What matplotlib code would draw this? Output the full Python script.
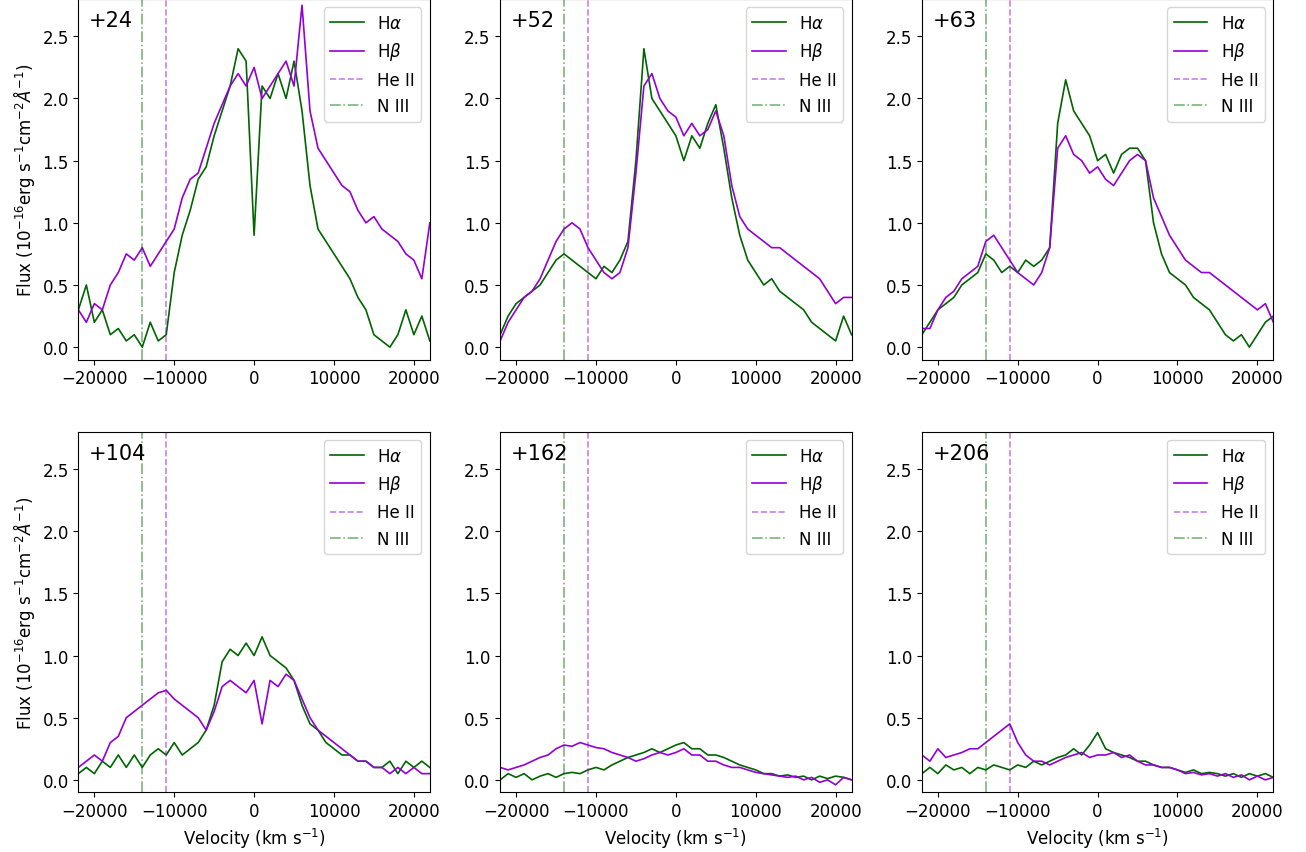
import numpy as np
import matplotlib
matplotlib.use("Agg")
import matplotlib.pyplot as plt

velocity = np.arange(-22000, 22001, 1000)
epochs = ["+24", "+52", "+63", "+104", "+162", "+206"]

halpha = {
    "+24": [0.3, 0.5, 0.2, 0.3, 0.1, 0.15, 0.05, 0.1, 0.0, 0.2, 0.05, 0.1, 0.6, 0.9, 1.1, 1.35, 1.45, 1.7, 1.9, 2.1, 2.4, 2.3, 0.9,
            2.1, 2.0, 2.2, 2.0, 2.3, 1.9, 1.3, 0.95, 0.85, 0.75, 0.65, 0.55, 0.4, 0.3, 0.1, 0.05, 0.0, 0.1, 0.3, 0.1, 0.25, 0.05],
    "+52": [0.1, 0.25, 0.35, 0.4, 0.45, 0.5, 0.6, 0.7, 0.75, 0.7, 0.65, 0.6, 0.55, 0.65, 0.6, 0.7, 0.85, 1.5, 2.4, 2.0, 1.9, 1.8, 1.7,
            1.5, 1.7, 1.6, 1.8, 1.95, 1.6, 1.2, 0.9, 0.7, 0.6, 0.5, 0.55, 0.45, 0.4, 0.35, 0.3, 0.2, 0.15, 0.1, 0.05, 0.25, 0.1],
    "+63": [0.1, 0.2, 0.3, 0.35, 0.4, 0.5, 0.55, 0.6, 0.75, 0.7, 0.6, 0.65, 0.6, 0.7, 0.65, 0.7, 0.8, 1.8, 2.15, 1.9, 1.8, 1.7, 1.5,
            1.55, 1.4, 1.55, 1.6, 1.6, 1.5, 1.0, 0.75, 0.6, 0.55, 0.5, 0.4, 0.35, 0.3, 0.2, 0.1, 0.05, 0.1, 0.0, 0.1, 0.2, 0.25],
    "+104": [0.05, 0.1, 0.05, 0.15, 0.1, 0.2, 0.1, 0.2, 0.1, 0.2, 0.25, 0.2, 0.3, 0.2, 0.25, 0.3, 0.4, 0.6, 0.95, 1.05, 1.0, 1.1, 1.0,
             1.15, 1.0, 0.95, 0.9, 0.8, 0.6, 0.45, 0.4, 0.3, 0.25, 0.2, 0.2, 0.15, 0.15, 0.1, 0.1, 0.15, 0.05, 0.15, 0.1, 0.15, 0.1],
    "+162": [0.0, 0.05, 0.02, 0.05, 0.0, 0.03, 0.05, 0.02, 0.05, 0.06, 0.05, 0.08, 0.1, 0.08, 0.12, 0.15, 0.18, 0.2, 0.22, 0.25, 0.22, 0.25, 0.28,
             0.3, 0.25, 0.25, 0.2, 0.2, 0.18, 0.15, 0.12, 0.1, 0.08, 0.05, 0.05, 0.03, 0.04, 0.02, 0.03, 0.0, 0.03, 0.01, 0.03, 0.02, 0.0],
    "+206": [0.05, 0.1, 0.05, 0.12, 0.08, 0.1, 0.05, 0.1, 0.08, 0.12, 0.1, 0.08, 0.12, 0.1, 0.15, 0.12, 0.15, 0.18, 0.2, 0.25, 0.2, 0.28, 0.38,
             0.25, 0.22, 0.2, 0.18, 0.15, 0.15, 0.12, 0.1, 0.1, 0.08, 0.06, 0.08, 0.05, 0.06, 0.05, 0.03, 0.05, 0.02, 0.05, 0.03, 0.05, 0.02],
}
hbeta = {
    "+24": [0.3, 0.2, 0.35, 0.3, 0.5, 0.6, 0.75, 0.7, 0.8, 0.65, 0.75, 0.85, 0.95, 1.2, 1.35, 1.4, 1.6, 1.8, 1.95, 2.1, 2.2, 2.1, 2.25,
            2.0, 2.1, 2.2, 2.3, 2.1, 2.75, 1.9, 1.6, 1.5, 1.4, 1.3, 1.25, 1.1, 1.0, 1.05, 0.95, 0.9, 0.85, 0.75, 0.7, 0.55, 1.0],
    "+52": [0.05, 0.2, 0.3, 0.4, 0.45, 0.55, 0.7, 0.85, 0.95, 1.0, 0.95, 0.8, 0.7, 0.6, 0.55, 0.6, 0.8, 1.4, 2.1, 2.2, 2.0, 1.9, 1.85,
            1.7, 1.8, 1.7, 1.75, 1.9, 1.7, 1.3, 1.05, 0.95, 0.9, 0.85, 0.8, 0.8, 0.75, 0.7, 0.65, 0.6, 0.55, 0.45, 0.35, 0.4, 0.4],
    "+63": [0.15, 0.15, 0.3, 0.4, 0.45, 0.55, 0.6, 0.65, 0.85, 0.9, 0.8, 0.7, 0.6, 0.55, 0.5, 0.6, 0.8, 1.6, 1.7, 1.55, 1.5, 1.4, 1.45,
            1.35, 1.3, 1.4, 1.5, 1.55, 1.5, 1.2, 1.05, 0.9, 0.8, 0.7, 0.65, 0.6, 0.6, 0.55, 0.5, 0.45, 0.4, 0.35, 0.3, 0.35, 0.2],
    "+104": [0.1, 0.15, 0.2, 0.15, 0.3, 0.35, 0.5, 0.55, 0.6, 0.65, 0.7, 0.72, 0.65, 0.6, 0.55, 0.5, 0.4, 0.55, 0.75, 0.8, 0.75, 0.7, 0.8,
             0.45, 0.8, 0.75, 0.85, 0.8, 0.65, 0.5, 0.4, 0.35, 0.3, 0.25, 0.2, 0.15, 0.15, 0.1, 0.1, 0.05, 0.1, 0.05, 0.1, 0.05, 0.05],
    "+162": [0.1, 0.08, 0.1, 0.12, 0.15, 0.18, 0.2, 0.25, 0.28, 0.27, 0.3, 0.28, 0.26, 0.25, 0.22, 0.2, 0.18, 0.15, 0.17, 0.2, 0.22, 0.2, 0.22,
             0.25, 0.2, 0.2, 0.15, 0.15, 0.12, 0.1, 0.1, 0.08, 0.06, 0.05, 0.04, 0.03, 0.02, 0.03, 0.0, 0.02, -0.02, 0.0, -0.04, 0.02, 0.0],
    "+206": [0.2, 0.15, 0.25, 0.18, 0.2, 0.22, 0.25, 0.25, 0.3, 0.35, 0.4, 0.45, 0.3, 0.2, 0.15, 0.15, 0.12, 0.15, 0.18, 0.2, 0.22, 0.18, 0.2,
             0.2, 0.22, 0.18, 0.2, 0.15, 0.12, 0.12, 0.1, 0.1, 0.08, 0.05, 0.06, 0.04, 0.05, 0.03, 0.05, 0.02, 0.04, 0.0, 0.03, 0.0, 0.02],
}
he2_vel = -11000
n3_vel = -14000

plt.rcParams["font.size"] = 12
fig, axes = plt.subplots(2, 3, figsize=(13.06, 8.53), dpi=100)
fig.subplots_adjust(left=0.06, right=0.975, top=1.0, bottom=0.07, wspace=0.2, hspace=0.2)

for i, (ax, ep) in enumerate(zip(axes.flat, epochs)):
    ax.plot(velocity, halpha[ep], color="darkgreen", lw=1.2, label=r"H$\alpha$")
    ax.plot(velocity, hbeta[ep], color="darkviolet", lw=1.2, label=r"H$\beta$")
    ax.axvline(he2_vel, color="darkviolet", ls="--", alpha=0.5, lw=1.2, label="He II")
    ax.axvline(n3_vel, color="darkgreen", ls="-.", alpha=0.5, lw=1.2, label="N III")
    ax.set_xlim(-22000, 22000)
    ax.set_ylim(-0.1, 2.8)
    ax.set_xticks([-20000, -10000, 0, 10000, 20000])
    ax.text(0.03, 0.97, ep, transform=ax.transAxes, fontsize=15, va="top", ha="left")
    ax.legend(loc="upper right")
    if i % 3 == 0:
        ax.set_ylabel(r"Flux ($10^{-16}$erg s$^{-1}$cm$^{-2}\AA^{-1}$)")
    if i >= 3:
        ax.set_xlabel(r"Velocity (km s$^{-1}$)")

fig.savefig("out.png")
